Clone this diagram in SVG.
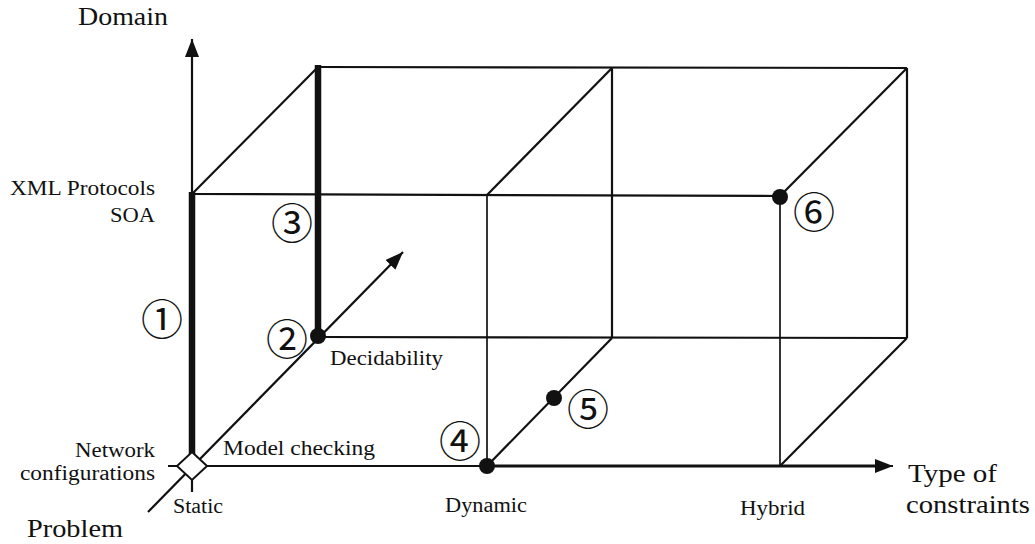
<svg xmlns="http://www.w3.org/2000/svg" width="1035" height="544" viewBox="0 0 1035 544">
<style>
.ln{stroke:#111;stroke-width:2.2;fill:none;stroke-linecap:butt}
.thin{stroke:#111;stroke-width:1.7;fill:none}
.thick{stroke:#111;stroke-width:6.5;fill:none}
.big{font-size:26px;fill:#111}
.sm{font-size:20px;fill:#111}
.num{font-family:'Noto Sans CJK JP',sans-serif;font-size:42px;fill:#111;text-anchor:middle;dominant-baseline:central}
.dot{fill:#111}
</style>
<defs>
<marker id="ah" viewBox="0 0 18 14" refX="18" refY="7" markerWidth="18" markerHeight="14" markerUnits="userSpaceOnUse" orient="auto">
<path d="M0,0 L18,7 L0,14 Z" fill="#111"/>
</marker>
</defs>
<rect width="1035" height="544" fill="#fff"/>
<g id="connectors">
<line class="ln" x1="192" y1="492" x2="192" y2="39" marker-end="url(#ah)"/>
<line class="ln" x1="168" y1="466" x2="893" y2="466" marker-end="url(#ah)"/>
<line class="ln" x1="148" y1="512" x2="403" y2="252" marker-end="url(#ah)"/>
<line class="ln" x1="192" y1="194" x2="780" y2="196"/>
<line class="ln" x1="192" y1="194" x2="318" y2="67"/>
<line class="ln" x1="318" y1="67" x2="907" y2="68"/>
<line class="ln" x1="318" y1="337" x2="907" y2="338"/>
<line class="ln" x1="907" y1="68" x2="907" y2="338"/>
<line class="ln" x1="612" y1="68" x2="612" y2="338"/>
<line class="ln" x1="487" y1="195" x2="612" y2="68"/>
<line class="ln" x1="780" y1="196" x2="907" y2="68"/>
<line class="thin" x1="487" y1="195" x2="487" y2="466"/>
<line class="thin" x1="780" y1="196" x2="780" y2="466"/>
<line class="ln" x1="487" y1="466" x2="612" y2="338"/>
<line class="ln" x1="780" y1="466" x2="907" y2="338"/>
<line class="ln" x1="487" y1="466" x2="880" y2="466" style="stroke-width:2.8"/>
<line class="thick" x1="192" y1="192" x2="192" y2="455"/>
<line class="thick" x1="318" y1="65" x2="318" y2="336"/>
</g>
<g id="origin">
<path d="M192,452 L207,466 L192,480 L177,466 Z" fill="#fff" stroke="#111" stroke-width="2"/>
</g>
<g id="axis-labels" font-family="Liberation Serif, serif">
<text class="big" x="78" y="25" textLength="90" lengthAdjust="spacingAndGlyphs">Domain</text>
<text class="big" x="27" y="537" textLength="96" lengthAdjust="spacingAndGlyphs">Problem</text>
<text class="big" x="908" y="482" textLength="89" lengthAdjust="spacingAndGlyphs">Type of</text>
<text class="big" x="906" y="513" textLength="124" lengthAdjust="spacingAndGlyphs">constraints</text>
</g>
<g id="value-labels" font-family="Liberation Serif, serif">
<text class="sm" x="10" y="195" textLength="145" lengthAdjust="spacingAndGlyphs">XML Protocols</text>
<text class="sm" x="110" y="222" textLength="45" lengthAdjust="spacingAndGlyphs">SOA</text>
<text class="sm" x="75" y="457" textLength="80" lengthAdjust="spacingAndGlyphs">Network</text>
<text class="sm" x="20" y="480" textLength="135" lengthAdjust="spacingAndGlyphs">configurations</text>
<text class="sm" x="223" y="455" textLength="152" lengthAdjust="spacingAndGlyphs">Model checking</text>
<text class="sm" x="330" y="365" textLength="113" lengthAdjust="spacingAndGlyphs">Decidability</text>
<text class="sm" x="173" y="513" textLength="50" lengthAdjust="spacingAndGlyphs">Static</text>
<text class="sm" x="445" y="512" textLength="82" lengthAdjust="spacingAndGlyphs">Dynamic</text>
<text class="sm" x="740" y="515" textLength="65" lengthAdjust="spacingAndGlyphs">Hybrid</text>
</g>
<g id="p1"><text class="num" x="162" y="316">①</text></g>
<g id="p2"><circle class="dot" cx="318" cy="336" r="8"/><text class="num" x="287" y="336">②</text></g>
<g id="p3"><text class="num" x="292" y="220">③</text></g>
<g id="p4"><circle class="dot" cx="487" cy="466" r="8"/><text class="num" x="460" y="438">④</text></g>
<g id="p5"><circle class="dot" cx="554" cy="398" r="8"/><text class="num" x="588" y="406">⑤</text></g>
<g id="p6"><circle class="dot" cx="780" cy="197" r="8"/><text class="num" x="814" y="209">⑥</text></g>
</svg>
